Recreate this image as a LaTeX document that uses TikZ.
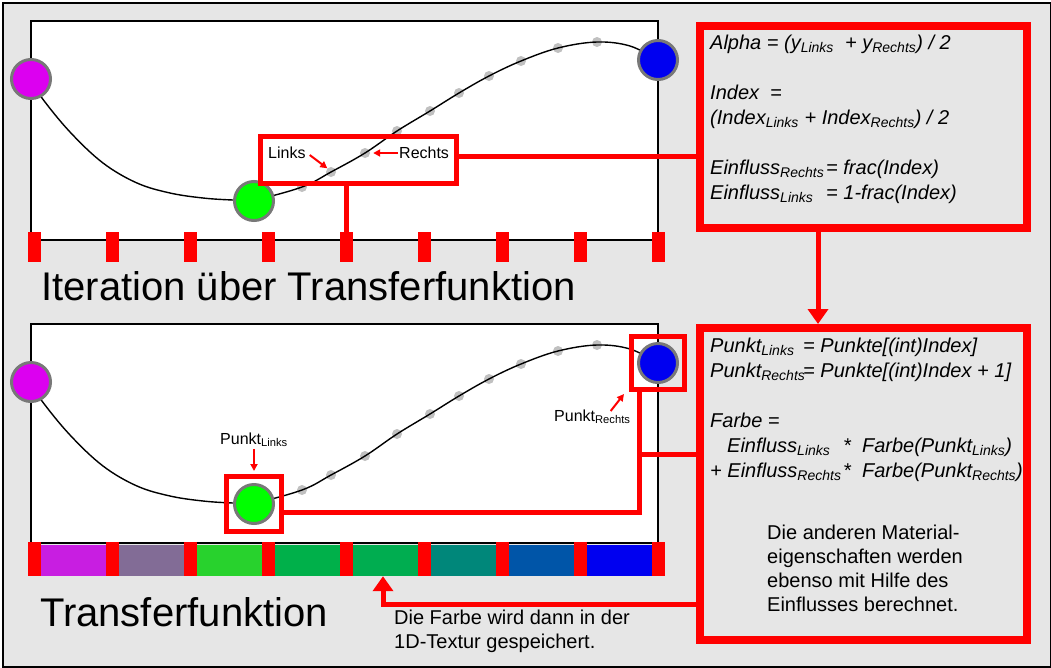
\documentclass[tikz,border=0pt]{standalone}
\usepackage{fontspec}
\setmainfont{Liberation Sans}
\usetikzlibrary{arrows.meta,positioning}
\definecolor{bggray}{RGB}{230,230,230}
\definecolor{ringgray}{RGB}{120,120,120}
\definecolor{dotgray}{RGB}{192,192,192}
\definecolor{ptmagenta}{RGB}{220,0,240}
\definecolor{ptgreen}{RGB}{0,255,0}
\definecolor{ptblue}{RGB}{0,0,240}
\definecolor{cellA}{RGB}{200,30,225}
\definecolor{cellB}{RGB}{130,108,150}
\definecolor{cellC}{RGB}{40,210,45}
\definecolor{cellD}{RGB}{0,176,74}
\definecolor{cellE}{RGB}{0,173,80}
\definecolor{cellF}{RGB}{0,135,122}
\definecolor{cellG}{RGB}{0,85,168}
\definecolor{cellH}{RGB}{0,0,240}
\newcommand\sub[1]{\textsubscript{#1}}
\tikzset{frame/.style={draw=black, line width=2.5pt, fill=bggray, inner sep=0pt},
        panel/.style={draw=black, line width=2.5pt, fill=white, inner sep=0pt, outer sep=0pt},
        ctrlpt/.style={circle, draw=ringgray, line width=3pt, minimum size=39pt, inner sep=0pt},
        sample/.style={circle, fill=dotgray, minimum size=10pt, inner sep=0pt},
        curve/.style={draw=black, line width=1.4pt},
        tick/.style={fill=red, minimum width=13pt, inner sep=0pt},
        cell/.style={minimum width=78pt, minimum height=31pt, inner sep=0pt},
        redbox/.style={draw=red, line width=8pt, inner sep=0pt, outer sep=0pt},
        lbox/.style={draw=red, line width=5pt, inner sep=0pt},
        redline/.style={draw=red, line width=5pt},
        redarrow/.style={draw=red, line width=5pt, -{Triangle[length=15pt,width=20pt]}},
        smallarrow/.style={draw=red, line width=2pt, -{Triangle[length=7pt,width=7pt]}},
        formula/.style={font=\fontsize{20}{25}\selectfont\itshape, align=left, anchor=north west, inner sep=0pt},
        note/.style={font=\fontsize{20}{24}\selectfont, align=left, anchor=north west, inner sep=0pt},
        tag/.style={font=\fontsize{16}{19}\selectfont, inner sep=0pt},
        headline/.style={font=\fontsize{40}{44}\selectfont, anchor=base west, inner sep=0pt},
        }
\begin{document}
\begin{tikzpicture}[x=1pt,y=-1pt]
    \useasboundingbox (0,0) rectangle (1051,667);
    \node[frame, minimum width=1048pt, minimum height=664pt, anchor=north west] (bg) at (1.5,1.5) {};

    % the two panels
    \node[panel, minimum width=627pt, minimum height=219pt, anchor=north west] (topPanel) at (31,21) {};
    \node[panel, minimum width=627pt, minimum height=219pt, anchor=north west] (botPanel) at (31,324) {};

    \foreach \pn/\dy in {top/0,bot/303}{
    \begin{scope}[shift={(0,\dy)}]
        \foreach \x/\y in {302/187,331/172,365/153,397/131,430/111,459/93,489/76,521/61,558/48,597/42}
            \node[sample] (\pn S\x) at (\x,\y) {};
        \draw[curve] plot[smooth, tension=0.6] coordinates {(31,79) (42,98) (70,132) (103,163) (137,183) (170,193) (203,198) (233,200) (254,200) (302,187) (331,172) (365,153) (397,131) (430,111) (459,93) (489,76) (521,61) (558,48) (597,42) (630,46) (658,60)};
        \node[ctrlpt, fill=ptmagenta] (\pn Mag) at (31,79) {};
        \node[ctrlpt, fill=ptgreen] (\pn Grn) at (254,201) {};
        \node[ctrlpt, fill=ptblue] (\pn Blu) at (658,60) {};
    \end{scope}
    }

    % texture cells and sample ticks
    \foreach \c [count=\i from 0] in {cellA,cellB,cellC,cellD,cellE,cellF,cellG,cellH}
        \node[cell, fill=\c] (cell\i) at ({73+78*\i},560.5) {};
    \foreach \i in {0,...,8}{
        \node[tick, minimum height=30pt] (tt\i) at ({34+78*\i},247) {};
        \node[tick, minimum height=34pt] (bt\i) at ({34+78*\i},559) {};
    }

    \node[headline] (titleTop) at (41,300) {Iteration über Transferfunktion};
    \node[headline] (titleBot) at (40,626) {Transferfunktion};

    % upper panel: neighbour samples
    \node[lbox, minimum width=196pt, minimum height=47pt] (lblTop) at (358.5,160) {};
    \node[tag, anchor=base west] (lnk) at (268,158) {Links};
    \node[tag, anchor=base west] (rts) at (399,158) {Rechts};
    \draw[smallarrow] ([shift={(4pt,3pt)}]lnk.base east) -- (topS331.north west);
    \draw[smallarrow] ([shift={(-1pt,5pt)}]rts.base west) -- ([xshift=3pt]topS365.east);

    \node[redbox, minimum width=327pt, minimum height=202pt, anchor=north west] (boxTop) at (700,26) {};
    \node[formula] (fTop) at (710,35) {Alpha = (y\sub{Links}\ \ + y\sub{Rechts}) / 2\\[25pt]
        Index\ \ =\\
        (Index\sub{Links} + Index\sub{Rechts}) / 2\\[25pt]
        \makebox[116pt][l]{Einfluss\sub{Rechts}}= frac(Index)\\
        \makebox[116pt][l]{Einfluss\sub{Links}}= 1-frac(Index)};

    \draw[redline] (lblTop.south -| tt4) -- (tt4.north);
    \draw[redline] ([yshift=4pt]lblTop.east) -- ([yshift=4pt]lblTop.east -| boxTop.west);

    % lower panel: colour lookup
    \node[redbox, minimum width=327pt, minimum height=312pt, anchor=north west] (boxBot) at (700,328) {};
    \node[formula] (fBot) at (710,338) {\makebox[93pt][l]{Punkt\sub{Links}}= Punkte[(int)Index]\\
        \makebox[93pt][l]{Punkt\sub{Rechts}}= Punkte[(int)Index + 1]\\[25pt]
        Farbe =\\
        \makebox[133pt][l]{\hspace*{17pt}Einfluss\sub{Links}}*\ \ Farbe(Punkt\sub{Links})\\
        \makebox[133pt][l]{+ Einfluss\sub{Rechts}}*\ \ Farbe(Punkt\sub{Rechts})};
    \node[note] (nBot) at (767,525) {Die anderen Material-\\eigenschaften werden\\ebenso mit Hilfe des\\Einflusses berechnet.};

    \draw[redarrow] ([xshift=-45.5pt,yshift=-4pt]boxTop.south) -- ([xshift=-45.5pt,yshift=4pt]boxBot.north);

    \node[lbox, minimum size=55pt] (gbox) at (botGrn) {};
    \node[lbox, minimum size=53pt] (bbox) at (botBlu) {};
    \node[tag, anchor=base] (pl) at (254,444) {Punkt\sub{Links}};
    \node[tag, anchor=base west] (pr) at (554,421) {Punkt\sub{Rechts}};
    \draw[smallarrow] ([yshift=-5pt]pl.base) -- ([yshift=3pt]gbox.north);
    \draw[smallarrow] ([shift={(-20pt,10pt)}]pr.base east) -- ([shift={(-5pt,-2pt)}]bbox.south west);

    \coordinate (elbow) at (639,512);
    \draw[redline] (gbox.east |- elbow) -- (elbow) -- (elbow |- bbox.south);
    \coordinate (branch) at (639,454);
    \draw[redline] (branch) -- ([xshift=-4pt]branch -| boxBot.west);
    \coordinate (turn) at (383,604);
    \draw[redarrow] ([xshift=-4pt]turn -| boxBot.west) -- (turn) -- (turn |- cell4.south);

    \node[note] (nTex) at (394,610) {Die Farbe wird dann in der\\1D-Textur gespeichert.};

\end{tikzpicture}
\end{document}
